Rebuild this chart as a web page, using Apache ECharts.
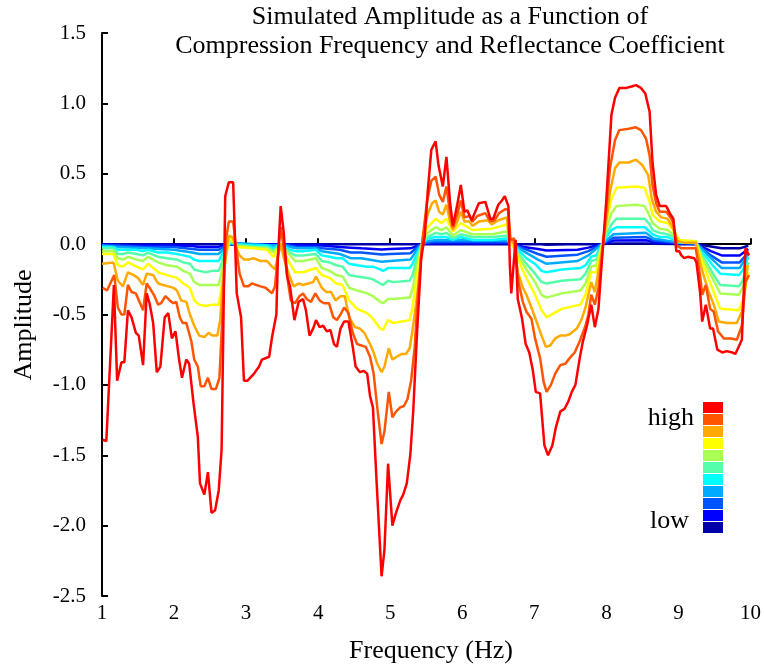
<!DOCTYPE html>
<html>
<head>
<meta charset="utf-8">
<script src="https://cdn.jsdelivr.net/npm/echarts@6/dist/echarts.min.js"></script>
<style>
html, body { margin: 0; padding: 0; background: #fff; }
#chart { width: 764px; height: 665px; }
</style>
</head>
<body>
<div id="chart"></div>
<script>
// highest reflectance coefficient (red)
var redFreq = [
  1.01, 1.06, 1.165, 1.21, 1.27, 1.31, 1.36, 1.41, 1.47, 1.51,
  1.57, 1.62, 1.66, 1.71, 1.76, 1.81, 1.87, 1.92, 1.97, 2.02,
  2.07, 2.11, 2.17, 2.21, 2.27, 2.33, 2.36, 2.42, 2.47, 2.52,
  2.57, 2.62, 2.66, 2.71, 2.76, 2.82, 2.87, 2.93, 2.97, 3.02,
  3.11, 3.18, 3.22, 3.32, 3.36, 3.42, 3.44, 3.48, 3.52, 3.57,
  3.61, 3.67, 3.73, 3.79, 3.83, 3.88, 3.93, 3.97, 4.02, 4.07,
  4.12, 4.17, 4.22, 4.26, 4.31, 4.36, 4.42, 4.48, 4.52, 4.58,
  4.63, 4.68, 4.72, 4.76, 4.81, 4.88, 4.92, 4.97, 5.03, 5.08,
  5.14, 5.18, 5.23, 5.28, 5.32, 5.37, 5.43, 5.48, 5.52, 5.57,
  5.63, 5.67, 5.73, 5.78, 5.83, 5.87, 5.93, 5.98, 6.03, 6.07,
  6.13, 6.18, 6.23, 6.32, 6.39, 6.43, 6.50, 6.55, 6.59, 6.64,
  6.66, 6.68, 6.74, 6.77, 6.83, 6.88, 6.93, 6.98, 7.02, 7.08,
  7.14, 7.19, 7.25, 7.30, 7.36, 7.42, 7.47, 7.52, 7.57, 7.63,
  7.67, 7.73, 7.79, 7.84, 7.89, 7.93, 8.00, 8.07, 8.12, 8.18,
  8.28, 8.35, 8.41, 8.48, 8.54, 8.60, 8.64, 8.69, 8.74, 8.83,
  8.89, 8.93, 8.97, 9.01, 9.04, 9.08, 9.13, 9.22, 9.25, 9.30,
  9.33, 9.38, 9.44, 9.48, 9.54, 9.61, 9.67, 9.75, 9.79, 9.88,
  9.93, 9.98
];
var redAmp = [
  -1.39, -1.40, -0.29, -0.97, -0.84, -0.84, -0.47, -0.52, -0.63, -0.65,
  -0.86, -0.35, -0.42, -0.56, -0.91, -0.87, -0.52, -0.49, -0.67, -0.62,
  -0.82, -0.95, -0.82, -0.85, -1.13, -1.37, -1.70, -1.78, -1.62, -1.91,
  -1.89, -1.75, -1.46, 0.34, 0.44, 0.44, -0.35, -0.52, -0.97, -0.97,
  -0.92, -0.87, -0.82, -0.80, -0.66, -0.50, -0.11, 0.27, 0.09, -0.23,
  -0.30, -0.54, -0.41, -0.39, -0.47, -0.65, -0.60, -0.54, -0.59, -0.58,
  -0.62, -0.61, -0.71, -0.73, -0.60, -0.55, -0.55, -0.73, -0.87, -0.91,
  -0.90, -0.92, -1.08, -1.16, -1.68, -2.36, -2.17, -1.56, -2.00, -1.91,
  -1.82, -1.78, -1.70, -1.49, -1.18, -0.65, -0.10, 0.06, 0.37, 0.67,
  0.73, 0.56, 0.41, 0.62, 0.30, 0.13, 0.28, 0.42, 0.23, 0.24,
  0.17, 0.23, 0.29, 0.30, 0.18, 0.18, 0.28, 0.31, 0.34, 0.27,
  -0.15, -0.35, 0.03, -0.39, -0.53, -0.71, -0.77, -0.90, -1.05, -1.06,
  -1.43, -1.50, -1.43, -1.30, -1.19, -1.17, -1.12, -1.05, -1.00, -0.81,
  -0.70, -0.58, -0.43, -0.59, -0.46, -0.17, 0.32, 0.92, 1.04, 1.11,
  1.11, 1.12, 1.13, 1.11, 1.07, 0.94, 0.58, 0.35, 0.27, 0.27,
  0.21, 0.18, -0.05, -0.05, -0.08, -0.10, -0.09, -0.10, -0.13, -0.34,
  -0.55, -0.43, -0.60, -0.60, -0.75, -0.77, -0.76, -0.77, -0.78, -0.68,
  -0.03, -0.08
];

var orangeRedFreq = [
  1.01, 1.07, 1.17, 1.22, 1.27, 1.31, 1.36, 1.41, 1.47, 1.52,
  1.57, 1.62, 1.66, 1.72, 1.78, 1.82, 1.88, 1.94, 1.99, 2.03,
  2.08, 2.12, 2.17, 2.24, 2.28, 2.33, 2.37, 2.42, 2.47, 2.52,
  2.58, 2.63, 2.66, 2.72, 2.76, 2.82, 2.86, 2.91, 2.97, 3.03,
  3.08, 3.20, 3.27, 3.36, 3.40, 3.48, 3.52, 3.57, 3.62, 3.68,
  3.74, 3.79, 3.84, 3.90, 3.96, 4.02, 4.08, 4.15, 4.21, 4.26,
  4.31, 4.36, 4.42, 4.48, 4.54, 4.60, 4.66, 4.72, 4.77, 4.82,
  4.88, 4.92, 4.98, 5.03, 5.08, 5.14, 5.19, 5.24, 5.29, 5.34,
  5.38, 5.45, 5.51, 5.57, 5.63, 5.68, 5.73, 5.78, 5.83, 5.87,
  5.93, 5.98, 6.03, 6.10, 6.14, 6.21, 6.32, 6.39, 6.45, 6.51,
  6.60, 6.64, 6.67, 6.72, 6.78, 6.84, 6.89, 6.96, 7.01, 7.08,
  7.13, 7.17, 7.23, 7.29, 7.36, 7.43, 7.49, 7.56, 7.63, 7.71,
  7.75, 7.79, 7.84, 7.89, 7.96, 8.05, 8.12, 8.18, 8.31, 8.41,
  8.48, 8.55, 8.60, 8.64, 8.69, 8.74, 8.83, 8.89, 8.93, 8.98,
  9.04, 9.13, 9.24, 9.30, 9.33, 9.38, 9.44, 9.49, 9.55, 9.63,
  9.73, 9.81, 9.88, 9.93, 9.98
];
var orangeRedAmp = [
  -0.31, -0.33, -0.22, -0.45, -0.50, -0.50, -0.29, -0.34, -0.35, -0.41,
  -0.47, -0.28, -0.31, -0.36, -0.43, -0.42, -0.37, -0.40, -0.42, -0.41,
  -0.52, -0.56, -0.56, -0.69, -0.82, -0.87, -1.01, -1.01, -0.95, -1.03,
  -1.03, -0.95, -0.63, 0.03, 0.16, 0.16, -0.02, -0.21, -0.30, -0.30,
  -0.28, -0.30, -0.31, -0.35, -0.30, 0.12, -0.02, -0.23, -0.40, -0.42,
  -0.37, -0.35, -0.39, -0.41, -0.35, -0.40, -0.42, -0.42, -0.52, -0.54,
  -0.50, -0.45, -0.49, -0.63, -0.71, -0.72, -0.73, -0.80, -0.92, -1.16,
  -1.42, -1.33, -1.05, -1.23, -1.19, -1.16, -1.15, -1.10, -0.97, -0.73,
  -0.39, 0.04, 0.30, 0.45, 0.48, 0.35, 0.30, 0.41, 0.22, 0.12,
  0.21, 0.31, 0.19, 0.20, 0.16, 0.20, 0.22, 0.16, 0.17, 0.22,
  0.25, 0.24, 0.03, 0.04, -0.27, -0.41, -0.48, -0.53, -0.67, -0.81,
  -0.98, -1.05, -1.00, -0.92, -0.86, -0.85, -0.81, -0.77, -0.69, -0.58,
  -0.50, -0.36, -0.43, -0.31, 0.02, 0.54, 0.74, 0.81, 0.82, 0.83,
  0.81, 0.75, 0.63, 0.42, 0.29, 0.23, 0.23, 0.19, 0.15, -0.01,
  -0.03, -0.03, -0.03, -0.22, -0.36, -0.29, -0.46, -0.48, -0.62, -0.67,
  -0.67, -0.68, -0.58, -0.27, -0.22
];

var orangeFreq = [
  1.00, 1.16, 1.22, 1.29, 1.36, 1.44, 1.50, 1.57, 1.62, 1.71,
  1.78, 1.85, 1.92, 1.99, 2.04, 2.10, 2.17, 2.22, 2.28, 2.35,
  2.42, 2.48, 2.53, 2.60, 2.64, 2.69, 2.76, 2.81, 2.86, 2.91,
  2.97, 3.03, 3.10, 3.20, 3.29, 3.36, 3.40, 3.48, 3.53, 3.59,
  3.66, 3.73, 3.79, 3.86, 3.93, 3.97, 4.05, 4.11, 4.18, 4.24,
  4.31, 4.37, 4.43, 4.51, 4.58, 4.64, 4.72, 4.77, 4.82, 4.88,
  4.92, 4.98, 5.03, 5.09, 5.16, 5.22, 5.27, 5.31, 5.36, 5.40,
  5.45, 5.52, 5.58, 5.63, 5.68, 5.73, 5.78, 5.83, 5.87, 5.93,
  5.98, 6.03, 6.10, 6.14, 6.23, 6.35, 6.41, 6.50, 6.62, 6.65,
  6.72, 6.77, 6.84, 6.89, 6.96, 7.03, 7.10, 7.16, 7.22, 7.29,
  7.36, 7.43, 7.49, 7.59, 7.66, 7.71, 7.79, 7.84, 7.91, 7.98,
  8.05, 8.12, 8.18, 8.31, 8.41, 8.50, 8.58, 8.63, 8.69, 8.76,
  8.85, 8.92, 8.99, 9.08, 9.24, 9.31, 9.36, 9.42, 9.49, 9.56,
  9.67, 9.81, 9.88, 9.96
];
var orangeAmp = [
  -0.14, -0.13, -0.26, -0.30, -0.20, -0.22, -0.24, -0.29, -0.21, -0.22,
  -0.28, -0.29, -0.30, -0.31, -0.33, -0.40, -0.41, -0.50, -0.58, -0.65,
  -0.66, -0.63, -0.65, -0.65, -0.54, -0.18, 0.06, 0.05, -0.02, -0.08,
  -0.11, -0.11, -0.10, -0.12, -0.12, -0.16, -0.18, 0.00, -0.11, -0.21,
  -0.30, -0.28, -0.29, -0.28, -0.27, -0.23, -0.31, -0.34, -0.34, -0.40,
  -0.37, -0.37, -0.52, -0.59, -0.60, -0.63, -0.71, -0.77, -0.85, -0.91,
  -0.87, -0.74, -0.82, -0.80, -0.78, -0.78, -0.74, -0.61, -0.42, -0.24,
  0.04, 0.21, 0.29, 0.31, 0.23, 0.21, 0.28, 0.16, 0.10, 0.16,
  0.23, 0.16, 0.16, 0.13, 0.16, 0.17, 0.14, 0.17, 0.19, 0.04,
  0.00, -0.20, -0.31, -0.36, -0.45, -0.55, -0.65, -0.73, -0.72, -0.67,
  -0.65, -0.65, -0.64, -0.60, -0.53, -0.45, -0.27, -0.34, -0.13, 0.09,
  0.37, 0.54, 0.58, 0.58, 0.60, 0.56, 0.49, 0.32, 0.23, 0.19,
  0.18, 0.12, 0.02, 0.01, 0.01, -0.15, -0.24, -0.34, -0.43, -0.55,
  -0.56, -0.56, -0.48, -0.15
];

// middle coefficients share one frequency grid
var midFreq = [
  1.00, 1.16, 1.22, 1.29, 1.36, 1.48, 1.57, 1.64, 1.78, 1.90,
  2.04, 2.13, 2.22, 2.28, 2.35, 2.44, 2.53, 2.62, 2.66, 2.72,
  2.77, 2.88, 3.09, 3.29, 3.38, 3.48, 3.54, 3.61, 3.68, 3.79,
  3.97, 4.05, 4.16, 4.25, 4.34, 4.43, 4.54, 4.68, 4.76, 4.86,
  4.90, 4.97, 5.04, 5.27, 5.31, 5.36, 5.45, 5.52, 5.63, 5.71,
  5.78, 5.87, 5.98, 6.14, 6.41, 6.62, 6.67, 6.74, 6.81, 6.89,
  7.01, 7.10, 7.17, 7.38, 7.64, 7.71, 7.79, 7.86, 7.93, 8.00,
  8.07, 8.14, 8.41, 8.53, 8.60, 8.64, 8.74, 8.85, 8.94, 9.01,
  9.24, 9.31, 9.40, 9.49, 9.58, 9.84, 9.90, 9.97
];
var yellowAmp = [
  -0.07, -0.07, -0.15, -0.16, -0.13, -0.16, -0.18, -0.14, -0.20, -0.22,
  -0.24, -0.28, -0.31, -0.40, -0.43, -0.44, -0.43, -0.43, -0.30, -0.09,
  0.05, -0.02, -0.03, -0.04, -0.09, 0.00, -0.07, -0.14, -0.20, -0.20,
  -0.17, -0.22, -0.24, -0.28, -0.29, -0.40, -0.46, -0.49, -0.53, -0.60,
  -0.61, -0.54, -0.56, -0.54, -0.45, -0.26, 0.03, 0.12, 0.18, 0.15,
  0.18, 0.09, 0.15, 0.10, 0.11, 0.14, 0.02, -0.05, -0.15, -0.24,
  -0.36, -0.47, -0.52, -0.46, -0.43, -0.36, -0.20, -0.20, -0.03, 0.16,
  0.32, 0.40, 0.41, 0.40, 0.30, 0.21, 0.16, 0.15, 0.09, 0.03,
  0.02, -0.10, -0.22, -0.34, -0.46, -0.47, -0.39, -0.20
];
var yellowGreenAmp = [
  -0.05, -0.05, -0.10, -0.11, -0.09, -0.11, -0.12, -0.09, -0.13, -0.15,
  -0.16, -0.19, -0.21, -0.27, -0.29, -0.29, -0.29, -0.29, -0.20, -0.06,
  0.03, -0.01, -0.02, -0.03, -0.06, 0.00, -0.04, -0.08, -0.12, -0.12,
  -0.10, -0.17, -0.19, -0.22, -0.23, -0.31, -0.33, -0.35, -0.37, -0.41,
  -0.42, -0.39, -0.39, -0.38, -0.32, -0.18, 0.02, 0.08, 0.12, 0.10,
  0.12, 0.06, 0.10, 0.07, 0.07, 0.09, 0.01, -0.04, -0.11, -0.18,
  -0.27, -0.36, -0.38, -0.35, -0.33, -0.28, -0.16, -0.15, -0.02, 0.11,
  0.22, 0.27, 0.28, 0.27, 0.20, 0.15, 0.11, 0.10, 0.06, 0.02,
  0.02, -0.08, -0.17, -0.26, -0.35, -0.36, -0.30, -0.15
];
var greenCyanAmp = [
  -0.03, -0.03, -0.07, -0.07, -0.06, -0.07, -0.08, -0.06, -0.09, -0.10,
  -0.11, -0.13, -0.14, -0.18, -0.19, -0.20, -0.19, -0.19, -0.14, -0.04,
  0.02, -0.01, -0.02, -0.02, -0.05, 0.00, -0.03, -0.06, -0.08, -0.08,
  -0.07, -0.12, -0.13, -0.15, -0.16, -0.22, -0.23, -0.24, -0.25, -0.28,
  -0.29, -0.26, -0.27, -0.26, -0.22, -0.12, 0.01, 0.05, 0.08, 0.07,
  0.08, 0.04, 0.07, 0.05, 0.05, 0.06, 0.01, -0.03, -0.09, -0.14,
  -0.21, -0.27, -0.28, -0.26, -0.25, -0.21, -0.12, -0.11, -0.02, 0.07,
  0.14, 0.18, 0.18, 0.18, 0.14, 0.10, 0.08, 0.07, 0.05, 0.02,
  0.02, -0.06, -0.14, -0.22, -0.29, -0.30, -0.25, -0.13
];
var cyanAmp = [
  -0.02, -0.02, -0.04, -0.04, -0.04, -0.04, -0.05, -0.04, -0.06, -0.06,
  -0.07, -0.08, -0.09, -0.11, -0.12, -0.12, -0.12, -0.12, -0.08, -0.03,
  0.01, 0.00, -0.01, -0.01, -0.03, 0.00, -0.02, -0.04, -0.05, -0.05,
  -0.04, -0.08, -0.09, -0.10, -0.10, -0.14, -0.15, -0.16, -0.16, -0.18,
  -0.19, -0.17, -0.17, -0.17, -0.14, -0.08, 0.01, 0.04, 0.05, 0.05,
  0.05, 0.03, 0.05, 0.03, 0.03, 0.04, 0.00, -0.02, -0.06, -0.10,
  -0.14, -0.19, -0.20, -0.18, -0.17, -0.15, -0.09, -0.08, -0.01, 0.05,
  0.10, 0.12, 0.12, 0.12, 0.09, 0.07, 0.05, 0.05, 0.03, 0.01,
  0.01, -0.05, -0.10, -0.16, -0.21, -0.22, -0.18, -0.09
];

// lowest coefficients, coarser grid
var lowFreq = [
  1.00, 1.20, 1.60, 2.00, 2.25, 2.35, 2.62, 2.72, 2.80, 3.40,
  3.50, 3.60, 3.70, 3.97, 4.05, 4.30, 4.45, 4.60, 4.88, 5.00,
  5.28, 5.40, 5.50, 5.65, 6.62, 6.70, 6.85, 7.05, 7.17, 7.60,
  7.75, 7.95, 8.10, 8.55, 8.65, 8.95, 9.25, 9.45, 9.60, 9.85,
  9.97
];
var lightBlueAmp = [
  -0.01, -0.02, -0.03, -0.04, -0.06, -0.07, -0.07, -0.02, 0.01, -0.01,
  0.00, -0.02, -0.03, -0.03, -0.05, -0.07, -0.10, -0.10, -0.125, -0.12,
  -0.11, -0.02, 0.02, 0.03, 0.025, 0.00, -0.05, -0.11, -0.14, -0.12,
  -0.08, 0.005, 0.07, 0.08, 0.04, 0.016, 0.005, -0.10, -0.17, -0.17,
  -0.07
];
var blueAmp = [
  -0.01, -0.01, -0.02, -0.02, -0.035, -0.04, -0.04, -0.01, 0.00, -0.01,
  0.00, -0.01, -0.02, -0.02, -0.03, -0.04, -0.06, -0.06, -0.073, -0.07,
  -0.065, -0.01, 0.01, 0.017, 0.014, 0.00, -0.03, -0.07, -0.09, -0.075,
  -0.05, 0.003, 0.045, 0.05, 0.026, 0.01, 0.003, -0.08, -0.13, -0.13,
  -0.06
];
var deepBlueAmp = [
  0.00, -0.01, -0.01, -0.01, -0.014, -0.02, -0.02, 0.00, 0.00, 0.00,
  0.00, 0.00, -0.01, -0.01, -0.01, -0.02, -0.025, -0.03, -0.038, -0.035,
  -0.03, -0.01, 0.005, 0.008, 0.007, 0.00, -0.02, -0.035, -0.045, -0.04,
  -0.025, 0.001, 0.025, 0.027, 0.014, 0.006, 0.001, -0.05, -0.08, -0.08,
  -0.035
];
var darkBlueAmp = [
  0, 0, 0, 0, 0, 0, 0, 0, 0, 0,
  0, 0, 0, 0, 0, 0, 0, 0, 0, 0,
  0, 0, 0, 0, 0, 0, 0, 0, -0.005, 0,
  0, 0, 0.004, 0.005, 0.002, 0, 0, -0.017, -0.03, -0.03,
  -0.012
];

var levelNames = ['c11', 'c10', 'c9', 'c8', 'c7', 'c6', 'c5', 'c4', 'c3', 'c2', 'c1'];
var levelColors = ['#ff0000', '#ff5500', '#ffaa00', '#ffff00', '#aaff55', '#55ffaa',
  '#00ffff', '#00aaff', '#0055ff', '#0000ff', '#0000aa'];
var yTicks = [1.5, 1.0, 0.5, 0.0, -0.5, -1.0, -1.5, -2.0, -2.5];

function zip(xs, ys) {
  return xs.map(function (x, i) { return [x, ys[i]]; });
}

var curves = [
  zip(redFreq, redAmp),
  zip(orangeRedFreq, orangeRedAmp),
  zip(orangeFreq, orangeAmp),
  zip(midFreq, yellowAmp),
  zip(midFreq, yellowGreenAmp),
  zip(midFreq, greenCyanAmp),
  zip(midFreq, cyanAmp),
  zip(lowFreq, lightBlueAmp),
  zip(lowFreq, blueAmp),
  zip(lowFreq, deepBlueAmp),
  zip(lowFreq, darkBlueAmp)
];

// draw low coefficients first so red ends on top
var series = [];
for (var i = curves.length - 1; i >= 0; i--) {
  series.push({
    name: levelNames[i],
    type: 'line',
    data: curves[i],
    showSymbol: false,
    symbol: 'none',
    color: levelColors[i],
    lineStyle: { width: 2.5, color: levelColors[i] },
    itemStyle: { color: levelColors[i] }
  });
}

var serif = '"Liberation Serif", "Times New Roman", serif';
var chart = echarts.init(document.getElementById('chart'));
chart.setOption({
  animation: false,
  backgroundColor: '#fff',
  grid: { left: 102, right: 9, top: 33, bottom: 69 },
  xAxis: {
    type: 'value',
    min: 1, max: 10, interval: 1,
    axisLine: { lineStyle: { color: '#000', width: 2 } },
    axisTick: { inside: true, length: 6, lineStyle: { color: '#000', width: 2 } },
    axisLabel: { color: '#000', fontSize: 21, fontFamily: serif, margin: 7 },
    splitLine: { show: false }
  },
  yAxis: {
    type: 'value',
    min: -2.5, max: 1.5, interval: 0.5,
    axisLine: { show: true, lineStyle: { color: '#000', width: 2 } },
    axisTick: { show: true, inside: true, length: 6, lineStyle: { color: '#000', width: 2 } },
    axisLabel: {
      color: '#000', fontSize: 21, fontFamily: serif, margin: 16,
      formatter: function (v) { return v.toFixed(1); }
    },
    splitLine: { show: false }
  },
  legend: {
    data: levelNames,
    orient: 'vertical',
    left: 703, top: 402,
    icon: 'rect',
    itemWidth: 20, itemHeight: 11, itemGap: 1,
    selectedMode: false,
    formatter: function () { return ''; },
    padding: 0
  },
  graphic: [
    { type: 'text', x: 450, y: 17, style: { text: 'Simulated Amplitude as a Function of', font: '26px ' + serif, fill: '#000', align: 'center', verticalAlign: 'middle' } },
    { type: 'text', x: 450, y: 46, style: { text: 'Compression Frequency and Reflectance Coefficient', font: '26px ' + serif, fill: '#000', align: 'center', verticalAlign: 'middle' } },
    { type: 'text', x: 431, y: 651, style: { text: 'Frequency (Hz)', font: '26px ' + serif, fill: '#000', align: 'center', verticalAlign: 'middle' } },
    { type: 'text', x: 24, y: 325, rotation: Math.PI / 2, style: { text: 'Amplitude', font: '26px ' + serif, fill: '#000', align: 'center', verticalAlign: 'middle' } },
    { type: 'text', x: 694, y: 418, style: { text: 'high', font: '26px ' + serif, fill: '#000', align: 'right', verticalAlign: 'middle' } },
    { type: 'text', x: 689, y: 521, style: { text: 'low', font: '26px ' + serif, fill: '#000', align: 'right', verticalAlign: 'middle' } }
  ],
  series: series
});
</script>
</body>
</html>
